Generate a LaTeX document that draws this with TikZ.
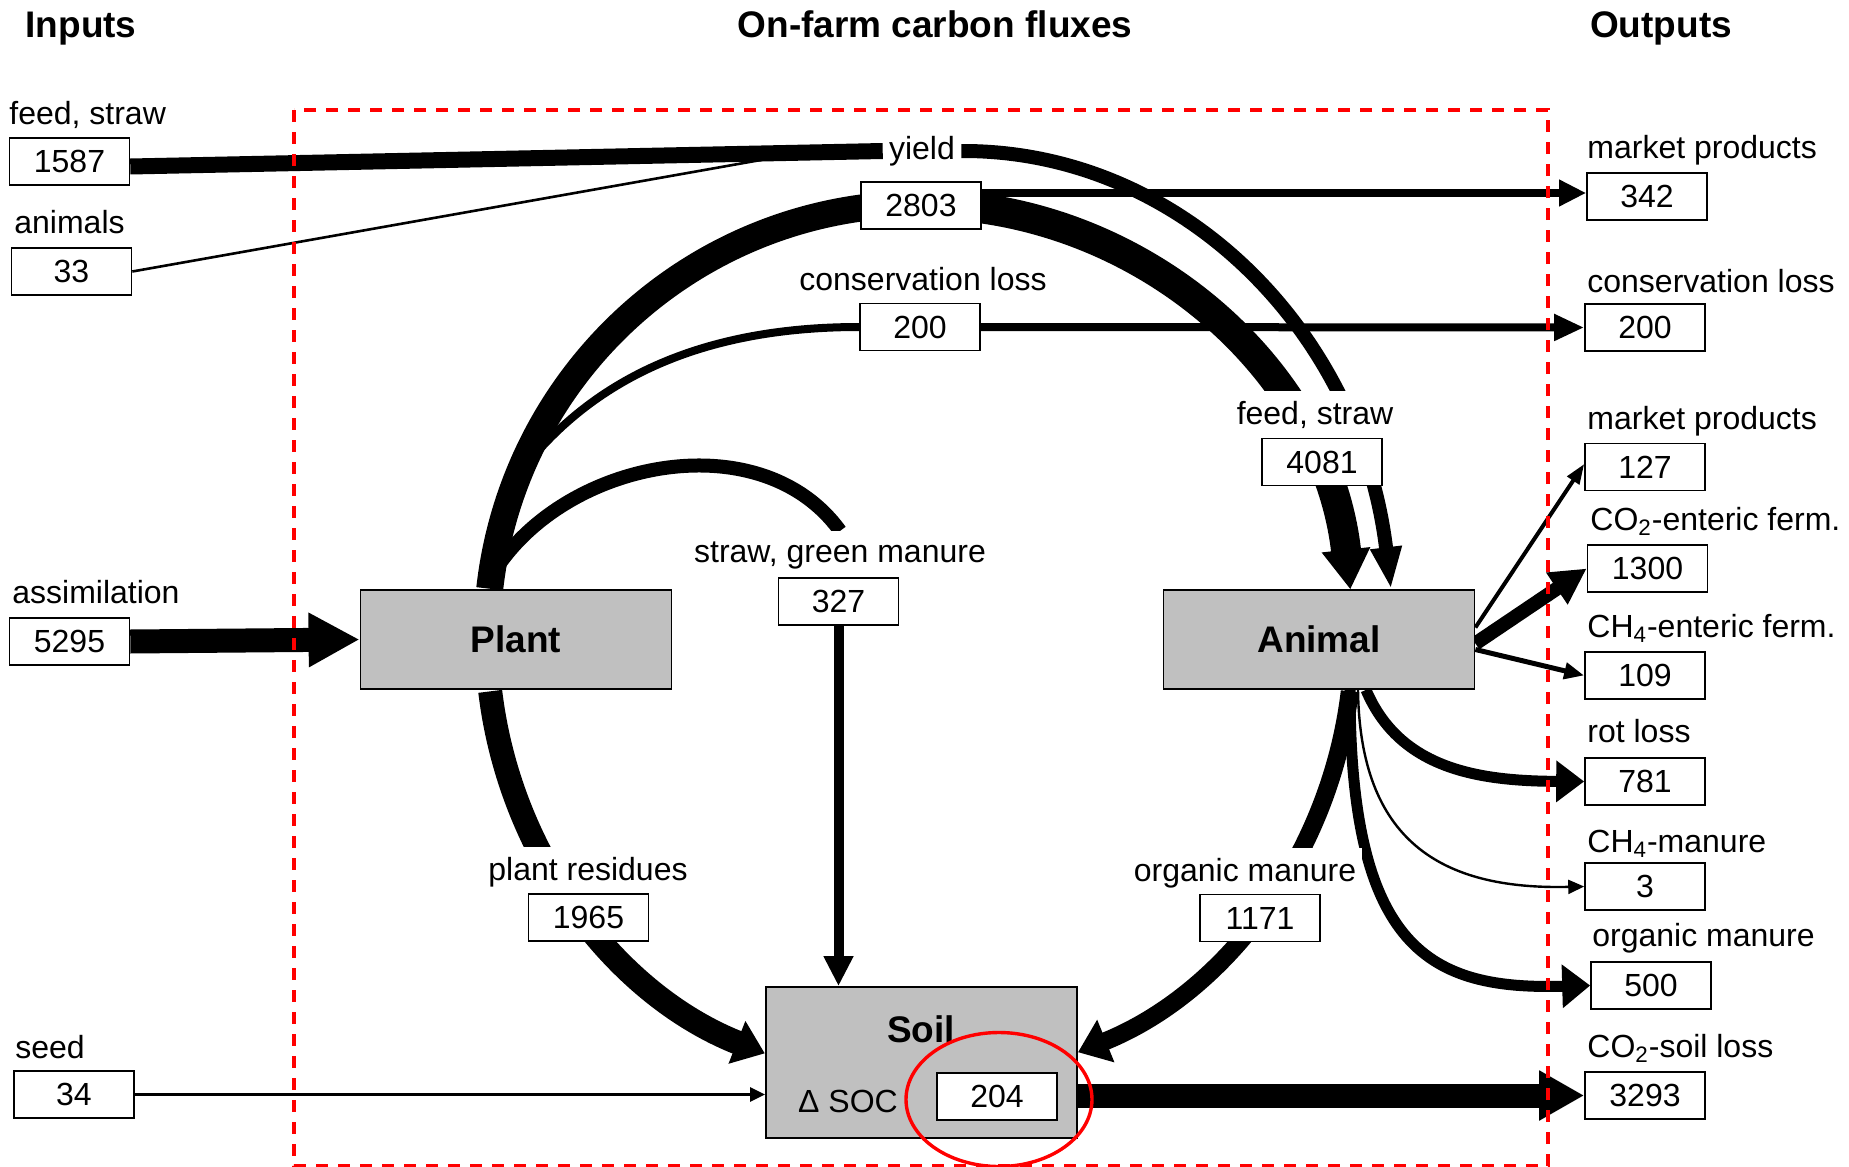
\documentclass[tikz,border=0pt]{standalone}
\usepackage{fontspec}
\setmainfont{Liberation Sans}
\usetikzlibrary{arrows.meta,calc}
\pgfdeclarelayer{bg}
\pgfsetlayers{bg,main}
\definecolor{hubgray}{RGB}{192,192,192}
\begin{document}
\begin{tikzpicture}[x=0.5pt,y=-0.5pt,
 lbl/.style={font=\fontsize{16}{19}\selectfont, inner sep=1pt},
 wl/.style={font=\fontsize{16}{19}\selectfont, fill=white, inner xsep=3pt, inner ysep=5pt},
 val/.style={draw, line width=0.8pt, fill=white, minimum width=60pt, minimum height=23.5pt, inner sep=0pt, font=\fontsize{16}{19}\selectfont},
 hub/.style={draw, line width=0.9pt, fill=hubgray, inner sep=0pt, minimum width=155.5pt, font=\bfseries\fontsize{18.5}{22}\selectfont},
 ttl/.style={font=\bfseries\fontsize{18.5}{22}\selectfont, anchor=base},
 headed/.style 2 args={-{Triangle[length=#1,width=#2]}},
]
\useasboundingbox (0,0) rectangle (1849,1167);
\coordinate (C) at (920,637);

% titles
\node[ttl] (tin) at (81,37) {Inputs};
\node[ttl] (tmid) at (935,37) {On-farm carbon fluxes};
\node[ttl] (tout) at (1661,37) {Outputs};

% inputs
\node[lbl, anchor=west] (lfeed) at (7,115) {feed, straw};
\node[val] (b1587) at (69.5,161.5) {1587};
\node[lbl, anchor=west] (lanim) at (12,222) {animals};
\node[val] (b33) at (71.5,271.5) {33};
\node[lbl, anchor=west] (lassim) at (10,592) {assimilation};
\node[val] (b5295) at (69.5,641.5) {5295};
\node[lbl, anchor=west] (lseed) at (13,1047) {seed};
\node[val] (b34) at (74,1094.5) {34};

% hubs
\node[hub, minimum height=49.5pt] (plant) at (516,639.5) {Plant};
\node[hub, minimum height=49.5pt] (animal) at (1319,639.5) {Animal};
\node[hub, minimum height=75.5pt] (soil) at (921.5,1062.5) {};
\node[font=\bfseries\fontsize{18.5}{22}\selectfont, inner sep=0pt] (soiltxt) at (921,1029) {Soil};
\node[lbl] (dsoc) at (848,1101) {Δ SOC};
\node[val] (b204) at (997,1096.5) {204};

% central labels and values
\node[wl] (yield) at (922,151) {yield};
\node[val] (b2803) at (921,205.5) {2803};
\node[wl] (lcons) at (923,279) {conservation loss};
\node[val] (c200) at (920,327) {200};
\node[wl] (lfeed2) at (1315,415) {feed, straw};
\node[val] (b4081) at (1322,462) {4081};
\node[wl] (lsgm) at (840,555) {straw, green manure};
\node[val] (b327) at (838.5,601.5) {327};
\node[wl] (lres) at (588,872) {plant residues};
\node[val] (b1965) at (588.5,917.5) {1965};
\node[wl] (lman) at (1245,873) {organic manure};
\node[val] (b1171) at (1260,918) {1171};

% outputs
\node[lbl, anchor=west] (lm1) at (1585,150) {market products};
\node[val] (m342) at (1647,196.5) {342};
\node[lbl, anchor=west] (lc1) at (1585,281) {conservation loss};
\node[val] (o200) at (1645,327.5) {200};
\node[lbl, anchor=west] (lm2) at (1585,421) {market products};
\node[val] (o127) at (1645,467) {127};
\node[lbl, anchor=west] (lco2e) at (1588,521) {CO\textsubscript{2}-enteric ferm.};
\node[val] (o1300) at (1647.5,568.5) {1300};
\node[lbl, anchor=west] (lch4e) at (1585,628) {CH\textsubscript{4}-enteric ferm.};
\node[val] (o109) at (1645,675.5) {109};
\node[lbl, anchor=west] (lrot) at (1585,731) {rot loss};
\node[val] (o781) at (1645,781.5) {781};
\node[lbl, anchor=west] (lch4m) at (1585,844) {CH\textsubscript{4}-manure};
\node[val] (o3) at (1645,886.5) {3};
\node[lbl, anchor=west] (lorg) at (1590,938) {organic manure};
\node[val] (o500) at (1651,985.5) {500};
\node[lbl, anchor=west] (lco2s) at (1585,1048) {CO\textsubscript{2}-soil loss};
\node[val] (o3293) at (1645,1095.5) {3293};

\coordinate (merge) at (772,158);
\coordinate (y193) at (0,193);

\begin{pgfonlayer}{bg}
% inputs
\draw[line width=12pt, headed={25.5pt}{25.5pt}] (b5295.east) -- (plant.west);
\draw[line width=1.2pt, headed={7.5pt}{7pt}] (b34.east) -- (soil.west |- b34.east);
\draw[line width=8pt] ($(b1587.east)+(0,5)$) -- (yield.west);
\draw[line width=1.3pt] (b33.east) -- (merge);
% feed arc from yield to animal
\draw[line width=7pt, headed={21pt}{14.5pt}] (yield.east) .. controls (1180,150) and (1360,330) .. ($(animal.north)+(72,0)$);
% big yield circle
\draw[line width=13.5pt] ($(C)+(173.6:216.5pt)$) arc[start angle=173.6, end angle=90, radius=216.5pt];
\draw[line width=15pt, headed={20pt}{23pt}] ($(C)+(90:216.5pt)$) arc[start angle=90, end angle=6.3, radius=216.5pt];
\draw[line width=4pt, headed={13.5pt}{12.5pt}] (b2803.east |- y193) -- (m342.west |- y193);
% conservation loss
\draw[line width=4pt] ($(C)+(158:216.5pt)$) .. controls (590,380) and (700,327) .. (c200.west);
\draw[line width=4pt, headed={15pt}{12.5pt}] (c200.east) -- (o200.west);
% straw, green manure
\draw[line width=7pt] ($(C)+(172:216.5pt)$) .. controls (560,460) and (760,420) .. (lsgm.north);
\draw[line width=5pt, headed={15pt}{14pt}] (b327.south) -- (soil.north -| b327.south);
% plant residues
\draw[line width=12pt, headed={15pt}{22pt}] ($(C)+({216.5pt*cos(187)},{223pt*sin(187)})$) arc[start angle=187, end angle=249, x radius=216.5pt, y radius=223pt];
% organic manure to soil
\draw[line width=9pt, headed={15pt}{22pt}] ($(C)+({216.5pt*cos(-7)},{223pt*sin(-7)})$) arc[start angle=-7, end angle=-68.6, x radius=216.5pt, y radius=223pt];
% animal outputs
\draw[line width=2pt, headed={10pt}{7pt}] ($(animal.east)+(0,-12)$) -- ($(o127.west)+(0,-3)$);
\draw[line width=7pt, headed={18pt}{18pt}] ($(animal.east)+(0,4)$) -- (o1300.west);
\draw[line width=2.5pt, headed={10pt}{8pt}] ($(animal.east)+(0,10)$) -- (o109.west);
\draw[line width=5.5pt, headed={14pt}{20pt}] ($(animal.south)+(47,0)$) .. controls (1400,770) and (1480,781) .. (o781.west);
\draw[line width=1.2pt, headed={8pt}{7pt}] ($(animal.south)+(39,0)$) .. controls (1360,840) and (1440,890) .. (o3.west);
\draw[line width=5.5pt, headed={14pt}{21pt}] ($(animal.south)+(31,0)$) .. controls (1350,950) and (1430,990) .. (o500.west);
% soil loss
\draw[line width=12pt, headed={22.5pt}{23.5pt}] (soil.east |- o3293.west) -- (o3293.west);
\end{pgfonlayer}

% farm boundary and highlight
\draw[red, line width=1.6pt, dash pattern=on 6pt off 5pt] (294,110) rectangle (1548,1166);
\draw[red, line width=1.7pt] (999,1099.5) ellipse [x radius=46.5pt, y radius=33.5pt];
\end{tikzpicture}
\end{document}
